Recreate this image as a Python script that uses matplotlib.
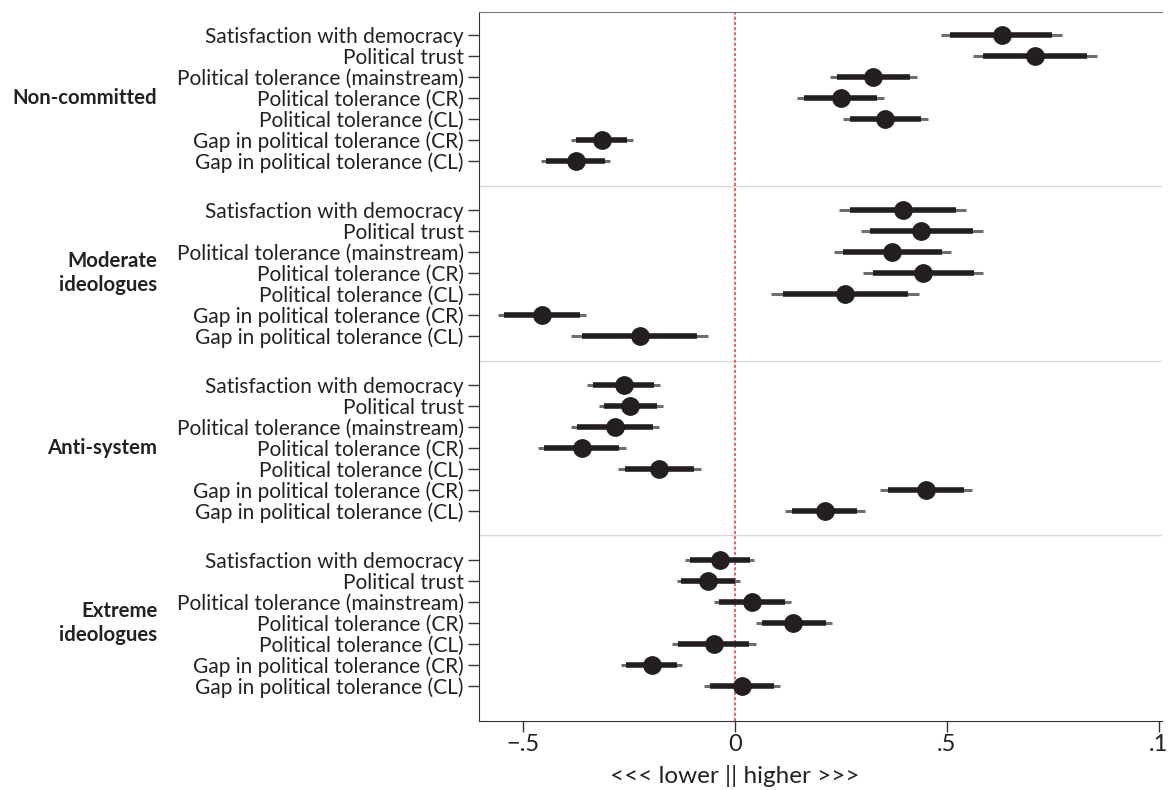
import matplotlib

matplotlib.use("Agg")
import matplotlib.pyplot as plt
import matplotlib.transforms as mtransforms

plt.rcParams["font.family"] = ["Lato", "DejaVu Sans"]

GROUPS = ["Non-committed", "Moderate\nideologues", "Anti-system", "Extreme\nideologues"]
ITEMS = [
    "Satisfaction with democracy",
    "Political trust",
    "Political tolerance (mainstream)",
    "Political tolerance (CR)",
    "Political tolerance (CL)",
    "Gap in political tolerance (CR)",
    "Gap in political tolerance (CL)",
]

# point estimates, one row of 7 items per group
coef = [
    0.629, 0.708, 0.326, 0.249, 0.354, -0.314, -0.376,
    0.396, 0.440, 0.371, 0.444, 0.260, -0.455, -0.225,
    -0.263, -0.247, -0.284, -0.362, -0.179, 0.450, 0.212,
    -0.035, -0.064, 0.041, 0.138, -0.050, -0.197, 0.017,
]
# 95% interval
lo95 = [
    0.487, 0.562, 0.224, 0.146, 0.254, -0.386, -0.457,
    0.245, 0.297, 0.233, 0.303, 0.086, -0.560, -0.386,
    -0.349, -0.321, -0.388, -0.465, -0.275, 0.342, 0.119,
    -0.117, -0.138, -0.050, 0.050, -0.149, -0.270, -0.072,
]
hi95 = [
    0.772, 0.855, 0.429, 0.351, 0.455, -0.241, -0.294,
    0.546, 0.584, 0.509, 0.586, 0.435, -0.351, -0.064,
    -0.177, -0.171, -0.179, -0.258, -0.081, 0.560, 0.306,
    0.046, 0.011, 0.133, 0.228, 0.050, -0.125, 0.106,
]
# 90% interval
lo90 = [
    0.508, 0.586, 0.240, 0.163, 0.271, -0.374, -0.445,
    0.271, 0.319, 0.254, 0.326, 0.113, -0.545, -0.361,
    -0.336, -0.309, -0.373, -0.450, -0.259, 0.362, 0.135,
    -0.106, -0.127, -0.037, 0.064, -0.134, -0.258, -0.059,
]
hi90 = [
    0.749, 0.831, 0.414, 0.336, 0.438, -0.255, -0.306,
    0.521, 0.562, 0.489, 0.564, 0.408, -0.366, -0.090,
    -0.191, -0.185, -0.194, -0.274, -0.097, 0.540, 0.288,
    0.035, -0.001, 0.119, 0.214, 0.034, -0.138, 0.092,
]

XTICKS = [-0.5, 0, 0.5, 1]
XTICKLABELS = ["\u2212.5", "0", ".5", ".1"]

GROUP_STEP = 8.33
INK = "#231f20"
TEXT = "#222222"

n_items = len(ITEMS)
ys = [g * GROUP_STEP + i for g in range(len(GROUPS)) for i in range(n_items)]

fig = plt.figure(figsize=(11.7, 7.9), dpi=100)
ax = fig.add_axes([0.4094, 0.0873, 0.5836, 0.8975])

ax.axvline(0, color="#e0383e", lw=1.1, ls=(0, (2, 1.4)), zorder=1)
for g in range(1, len(GROUPS)):
    ax.axhline(g * GROUP_STEP - (GROUP_STEP - n_items + 1) / 2, color="#d9d9d9", lw=1, zorder=0)

ax.hlines(ys, lo95, hi95, color="#6e6e6e", lw=2.2, zorder=2)
ax.hlines(ys, lo90, hi90, color=INK, lw=4, zorder=3)
ax.plot(coef, ys, "o", ms=12.5, color=INK, mec=INK, zorder=4)

ax.set_xlim(-0.604, 1.007)
ax.set_ylim(ys[-1] + 1.67, -1.1)

ax.set_yticks(ys)
ax.set_yticklabels(ITEMS * len(GROUPS), fontsize=15, color=TEXT)
ax.set_xticks(XTICKS)
ax.set_xticklabels(XTICKLABELS, fontsize=17, color=TEXT)
ax.tick_params(axis="y", length=8, width=1, color="#333333", pad=3)
ax.tick_params(axis="x", length=8, width=1, color="#333333", pad=1)

ax.spines["right"].set_visible(False)
ax.spines["top"].set_color("#777777")
ax.spines["left"].set_color("#333333")
ax.spines["bottom"].set_color("#333333")

trans = mtransforms.blended_transform_factory(ax.transAxes, ax.transData)
for g, name in enumerate(GROUPS):
    ax.text(-0.471, g * GROUP_STEP + 3, name, transform=trans, ha="right", va="center",
            fontsize=14.7, fontweight="bold", color=TEXT, linespacing=1.2)

# x title sits under the zero line, not the axes centre
xl_trans = mtransforms.blended_transform_factory(ax.transData, fig.transFigure)
fig.text(0, 1 - 776 / 790, "<<< lower || higher >>>", transform=xl_trans,
         ha="center", va="center", fontsize=17.5, color=TEXT)

fig.savefig("out.png", dpi=100)
